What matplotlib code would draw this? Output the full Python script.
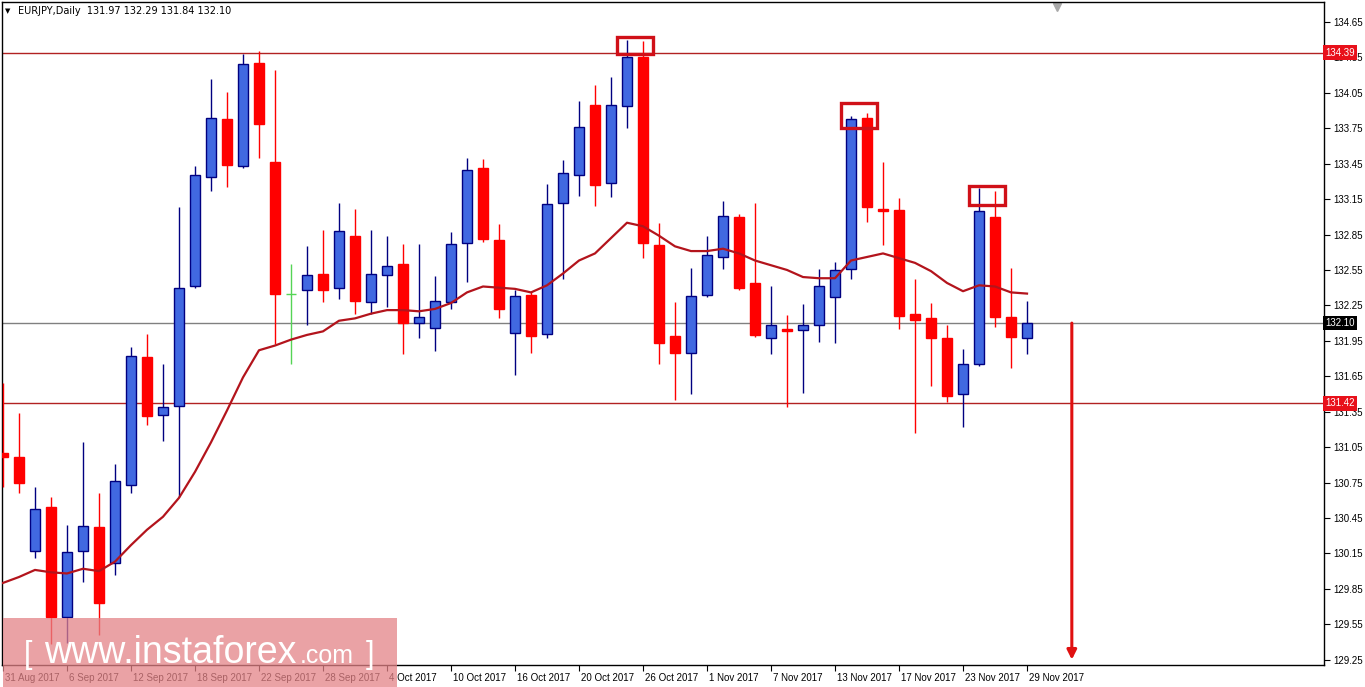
import matplotlib
matplotlib.use("Agg")
import matplotlib.pyplot as plt
from matplotlib.patches import Rectangle
from matplotlib.transforms import ScaledTranslation
import numpy as np

# EURJPY daily candles, 31 Aug 2017 .. 29 Nov 2017
opens = [131.00, 130.97, 130.17, 130.54, 129.61, 130.17, 130.37, 130.07, 130.73, 131.81,
         131.32, 131.40, 132.41, 133.34, 133.83, 133.43, 134.30, 133.46, 132.35, 132.38,
         132.52, 132.40, 132.84, 132.28, 132.51, 132.60, 132.10, 132.06, 132.28, 132.78,
         133.41, 132.80, 132.02, 132.34, 132.01, 133.12, 133.35, 133.95, 133.29, 133.94,
         134.35, 132.76, 131.99, 131.85, 132.34, 132.66, 133.00, 132.44, 131.97, 132.05,
         132.04, 132.08, 132.32, 132.56, 133.84, 133.07, 133.06, 132.18, 132.14, 131.97,
         131.50, 131.75, 133.00, 132.15, 131.97]
highs = [131.59, 131.34, 130.71, 130.63, 130.39, 131.09, 130.66, 130.91, 131.90, 132.01,
         131.75, 133.08, 133.43, 134.17, 134.06, 134.38, 134.40, 134.24, 132.60, 132.75,
         132.89, 133.12, 133.07, 132.89, 132.84, 132.77, 132.77, 132.50, 132.87, 133.50,
         133.49, 132.94, 132.38, 132.36, 133.28, 133.48, 133.98, 134.12, 134.18, 134.50,
         134.49, 132.95, 132.28, 132.57, 132.84, 133.13, 133.02, 133.12, 132.41, 132.17,
         132.26, 132.56, 132.62, 133.85, 133.88, 133.46, 133.16, 132.47, 132.27, 132.08,
         131.88, 133.24, 133.22, 132.57, 132.29]
lows = [130.71, 130.66, 130.11, 129.38, 129.39, 129.91, 129.46, 129.97, 130.66, 131.24,
        131.10, 130.63, 132.40, 133.22, 133.25, 133.41, 133.50, 131.92, 131.75, 132.08,
        132.28, 132.30, 132.18, 132.18, 132.24, 131.84, 131.97, 131.86, 132.22, 132.45,
        132.79, 132.14, 131.66, 131.85, 131.97, 132.47, 133.18, 133.09, 133.17, 133.75,
        132.65, 131.75, 131.45, 131.50, 132.32, 132.56, 132.38, 131.98, 131.84, 131.39,
        131.51, 131.94, 131.93, 132.47, 132.96, 132.76, 132.05, 131.17, 131.57, 131.43,
        131.22, 131.74, 132.07, 131.72, 131.84]
closes = [130.97, 130.75, 130.53, 129.61, 130.16, 130.38, 129.73, 130.76, 131.82, 131.31,
          131.39, 132.40, 133.35, 133.84, 133.44, 134.29, 133.79, 132.35, 132.35, 132.51,
          132.38, 132.88, 132.29, 132.52, 132.58, 132.10, 132.15, 132.29, 132.77, 133.40,
          132.81, 132.22, 132.33, 131.99, 133.11, 133.37, 133.76, 133.27, 133.95, 134.35,
          132.78, 131.93, 131.85, 132.33, 132.68, 133.01, 132.40, 132.00, 132.08, 132.03,
          132.08, 132.41, 132.55, 133.83, 133.08, 133.05, 132.16, 132.13, 131.97, 131.48,
          131.75, 133.05, 132.15, 131.98, 132.10]
ma_values = [129.90, 129.95, 130.01, 129.99, 129.98, 130.02, 130.00, 130.08, 130.22, 130.35,
             130.46, 130.62, 130.84, 131.09, 131.36, 131.64, 131.87, 131.91, 131.96, 132.00,
             132.03, 132.12, 132.14, 132.18, 132.21, 132.21, 132.20, 132.22, 132.27, 132.36,
             132.41, 132.40, 132.39, 132.36, 132.42, 132.52, 132.63, 132.69, 132.82, 132.95,
             132.92, 132.84, 132.75, 132.71, 132.71, 132.73, 132.69, 132.63, 132.59, 132.55,
             132.49, 132.48, 132.48, 132.63, 132.66, 132.69, 132.65, 132.61, 132.54, 132.44,
             132.37, 132.42, 132.41, 132.36, 132.35]
date_labels = ["31 Aug 2017", "6 Sep 2017", "12 Sep 2017", "18 Sep 2017", "22 Sep 2017",
               "28 Sep 2017", "4 Oct 2017", "10 Oct 2017", "16 Oct 2017", "20 Oct 2017",
               "26 Oct 2017", "1 Nov 2017", "7 Nov 2017", "13 Nov 2017", "17 Nov 2017",
               "23 Nov 2017", "29 Nov 2017"]
resistance = 134.39
support = 131.42
last_price = closes[-1]
# highlighted tops: (first candle, last candle, bottom price, top price)
top_boxes = [(39, 40, 134.38, 134.52), (53, 54, 133.75, 133.96), (61, 62, 133.10, 133.26)]
arrow_index = 66.8
arrow_target = 129.25

W, H = 1365, 687
fig = plt.figure(figsize=(W / 100, H / 100), dpi=100)
fig.patch.set_facecolor("white")
ax = fig.add_axes([2 / W, 22 / H, 1322 / W, 663 / H])

blue = "#4169E1"
navy = "#000080"
red = "#FF0000"
doji = "#55D455"
bw = 0.62

for i in range(len(opens)):
    o, h, l, c = opens[i], highs[i], lows[i], closes[i]
    if c > o:
        ax.vlines(i, l, h, color=navy, lw=1, zorder=3)
        ax.add_patch(Rectangle((i - bw / 2, o), bw, c - o, facecolor=blue,
                               edgecolor=navy, lw=1, zorder=4))
    elif c < o:
        ax.vlines(i, l, h, color=red, lw=1, zorder=3)
        ax.add_patch(Rectangle((i - bw / 2, c), bw, o - c, facecolor=red,
                               edgecolor=red, lw=1, zorder=4))
    else:
        ax.vlines(i, l, h, color=doji, lw=1, zorder=3)
        ax.hlines(o, i - bw / 2, i + bw / 2, color=doji, lw=1, zorder=4)

ax.plot(range(len(ma_values)), ma_values, color="#B3141C", lw=1.6, zorder=5)

ax.axhline(resistance, color="#B22222", lw=1, zorder=2)
ax.axhline(support, color="#B22222", lw=1, zorder=2)
ax.axhline(last_price, color="#808080", lw=1, zorder=2)

for a, b, lo, hi in top_boxes:
    ax.add_patch(Rectangle((a - 0.6, lo), b - a + 1.2, hi - lo, fill=False,
                           edgecolor="#D01018", lw=2.4, zorder=6))

ax.annotate("", xy=(arrow_index, arrow_target), xytext=(arrow_index, last_price),
            arrowprops=dict(arrowstyle="-|>", color="#E01010", lw=2.2,
                            mutation_scale=14, shrinkA=0, shrinkB=0), zorder=6)

ax.set_xlim(-0.06, 82.56)
ax.set_ylim(129.205, 134.819)

yt = np.arange(129.25, 134.66, 0.30)
ax.yaxis.tick_right()
ax.set_yticks(yt)
ax.set_yticklabels([f"{v:.2f}" for v in yt], family="Liberation Sans")
ax.set_xticks(range(0, len(opens), 4))
ax.set_xticklabels(date_labels, ha="left", family="Liberation Sans")
ax.tick_params(axis="both", labelsize=7, length=4, width=0.8, colors="black", direction="out")
ax.tick_params(axis="y", pad=3)
ax.tick_params(axis="x", pad=2)
shift = ScaledTranslation(2 / 100, 0, fig.dpi_scale_trans)
for lab in ax.get_xticklabels():
    lab.set_transform(lab.get_transform() + shift)
for sp in ax.spines.values():
    sp.set_color("black")
    sp.set_linewidth(1)

# price tags on the right axis
for price, col in [(resistance, "#E8101A"), (support, "#E8101A"), (last_price, "black")]:
    ax.text(1.001, price, f"{price:.2f}", transform=ax.get_yaxis_transform(),
            color="white", fontsize=7, family="Liberation Sans", va="center", ha="left",
            zorder=10, clip_on=False,
            bbox=dict(facecolor=col, edgecolor="none", pad=1.6))

# chart shift marker
ax.plot([65.9], [0.992], marker="v", color="#A8A8A8", markersize=6,
        transform=ax.get_xaxis_transform(), clip_on=False)

fig.text(5 / W, 1 - 11 / H, "\u25BC", fontsize=5, va="center", ha="left")
fig.text(18 / W, 1 - 11 / H, "EURJPY,Daily  131.97 132.29 131.84 132.10",
         fontsize=7, va="center", ha="left")

# watermark
fig.patches.append(Rectangle((3 / W, 0), 394 / W, 69 / H, transform=fig.transFigure,
                             facecolor=(0.89, 0.513, 0.53), alpha=0.75, edgecolor="none",
                             zorder=20))
wm = dict(color="white", va="baseline", ha="left", family="Liberation Sans", zorder=21)
fig.text(24 / W, 1 - 663 / H, "[", fontsize=22, **wm)
fig.text(44 / W, 1 - 663 / H, "www.instaforex", fontsize=27, **wm)
fig.text(300 / W, 1 - 663 / H, ".com", fontsize=18, **wm)
fig.text(366 / W, 1 - 663 / H, "]", fontsize=22, **wm)

fig.savefig("out.png", dpi=100, facecolor="white")
